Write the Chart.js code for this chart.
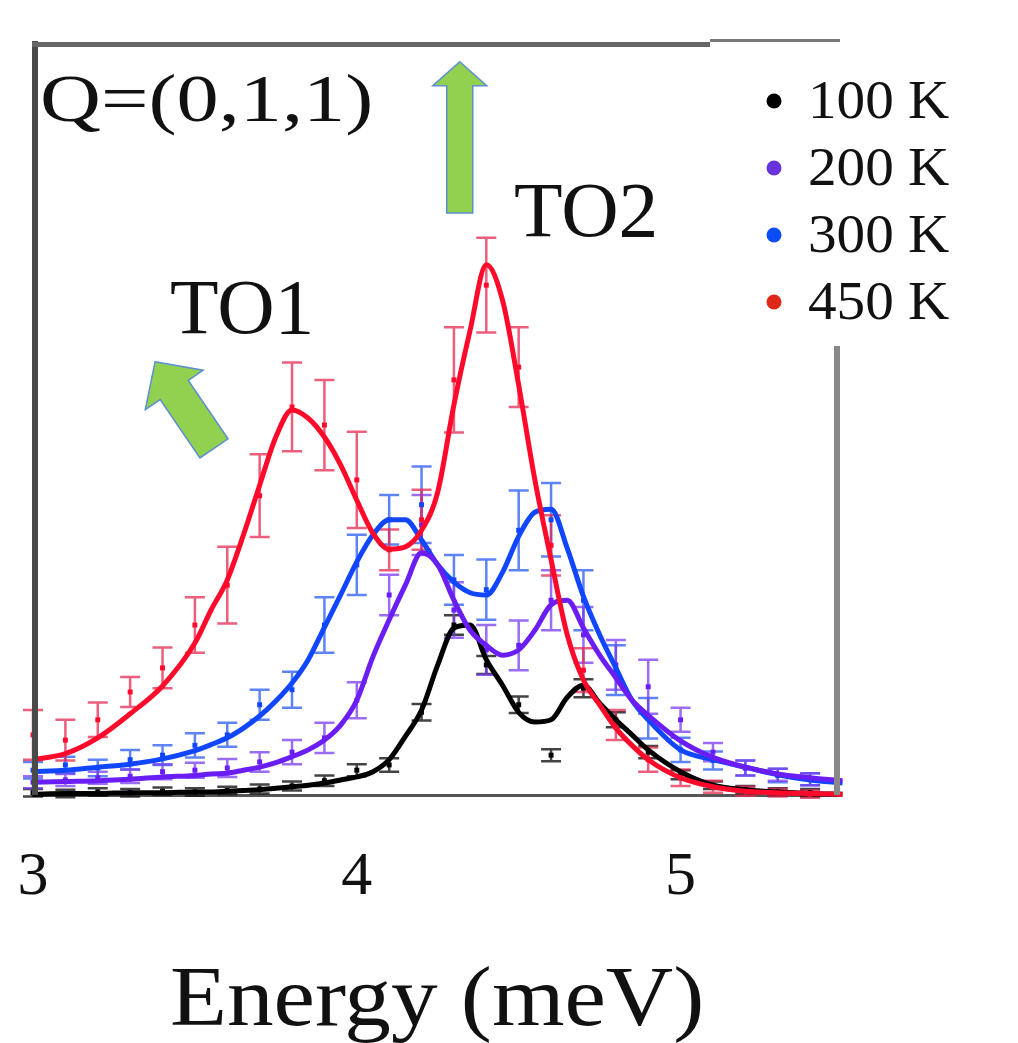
<!DOCTYPE html>
<html>
<head>
<meta charset="utf-8">
<title>Q=(0,1,1) energy scans</title>
<script src="https://cdn.jsdelivr.net/npm/chart.js@4.4.1/dist/chart.umd.min.js"></script>
<style>
  html, body { margin: 0; padding: 0; background: #fff; }
  #wrap { width: 1018px; height: 1043px; }
</style>
</head>
<body>
<div id="wrap"><canvas id="spectra" width="1018" height="1043"></canvas></div>
<script>
// measured points, every 0.1 meV (intensity in arb. units, 0-100)
const energy = [3.0, 3.1, 3.2, 3.3, 3.4, 3.5, 3.6, 3.7, 3.8, 3.9, 4.0, 4.1, 4.2,
  4.3, 4.4, 4.5, 4.6, 4.7, 4.8, 4.9, 5.0, 5.1, 5.2, 5.3, 5.4];

const pts450 = [8.0, 7.3, 10.0, 13.7, 16.9, 22.6, 27.9, 39.8, 51.6, 49.2, 41.9, 32.6, 36.6,
  55.2, 67.8, 56.9, 33.2, 16.6, 9.3, 4.7, 2.3, 1.1, 0.5, 0.3, 0.1];
const err450 = [3.3, 2.7, 2.3, 2.0, 2.7, 3.7, 5.1, 5.5, 5.9, 6.0, 6.4, 2.7, 4.0,
  7.0, 6.3, 5.3, 4.0, 2.9, 2.0, 1.6, 1.1, 0.8, 0.6, 0.5, 0.5];

const pts300 = [3.3, 4.0, 3.6, 4.7, 5.3, 6.6, 8.0, 12.0, 14.0, 22.6, 30.6, 36.6, 38.6,
  28.6, 27.3, 35.2, 36.6, 25.9, 16.6, 10.2, 6.0, 4.6, 3.6, 2.6, 2.1];
const err300 = [1.1, 1.1, 1.1, 1.3, 1.3, 1.6, 1.6, 2.0, 2.4, 3.7, 4.0, 3.3, 5.1,
  3.3, 4.0, 5.3, 4.9, 4.0, 3.3, 2.7, 1.6, 1.2, 1.0, 0.9, 0.8];

const pts200 = [1.7, 2.0, 2.3, 2.5, 3.1, 3.3, 3.6, 4.4, 5.7, 7.6, 12.6, 26.6, 35.9,
  24.6, 19.3, 19.9, 25.9, 21.3, 17.3, 14.4, 10.0, 5.7, 3.6, 2.7, 2.1];
const err200 = [0.8, 0.8, 0.8, 0.9, 1.0, 1.0, 1.2, 1.3, 1.6, 2.0, 2.4, 2.7, 4.0,
  3.7, 3.3, 3.3, 4.0, 3.7, 3.3, 3.6, 1.6, 1.2, 1.0, 0.8, 0.8];

const pts100 = [0.3, 0.2, 0.4, 0.3, 0.5, 0.4, 0.6, 0.8, 1.2, 1.9, 3.3, 4.0, 11.0,
  22.6, 17.3, 12.0, 5.3, 14.2, 10.0, 5.7, 2.7, 1.3, 0.7, 0.4, 0.3];
const err100 = [0.5, 0.5, 0.5, 0.5, 0.5, 0.5, 0.5, 0.6, 0.6, 0.7, 0.8, 0.9, 1.1,
  1.3, 1.2, 1.1, 0.8, 1.2, 1.0, 0.8, 0.6, 0.5, 0.5, 0.5, 0.5];

// fitted curves
const fitEnergy = [3.0, 3.1, 3.2, 3.3, 3.4, 3.5, 3.55, 3.6, 3.65, 3.7, 3.75, 3.8, 3.85, 3.9,
  3.95, 4.0, 4.05, 4.1, 4.15, 4.2, 4.25, 4.3, 4.35, 4.4, 4.45, 4.5, 4.55, 4.6, 4.65, 4.7,
  4.75, 4.8, 4.85, 4.9, 5.0, 5.1, 5.2, 5.3, 5.4, 5.5];

const fit450 = [4.7, 5.5, 7.6, 10.8, 14.5, 20.2, 24.6, 28.6, 34.6, 41.2, 47.6, 51.2, 50.1, 47.6,
  43.9, 39.2, 34.8, 32.7, 33.0, 35.2, 40.3, 51.9, 61.8, 70.5, 65.8, 54.5, 41.9, 31.3, 21.3, 15.3,
  12.0, 8.9, 6.6, 4.7, 2.3, 1.1, 0.5, 0.3, 0.2, 0.1];
const fit300 = [3.1, 3.3, 3.7, 4.1, 4.8, 5.9, 6.7, 7.6, 8.9, 10.5, 12.5, 14.9, 18.0, 22.3,
  26.6, 31.0, 34.6, 36.6, 36.6, 33.9, 30.6, 28.3, 26.9, 26.6, 29.6, 34.4, 37.6, 38.0, 32.8, 26.4,
  21.3, 16.9, 12.6, 10.0, 6.0, 4.7, 3.7, 2.7, 2.0, 1.6];
const fit200 = [1.7, 1.8, 1.9, 2.1, 2.4, 2.6, 2.8, 2.9, 3.3, 3.7, 4.3, 5.1, 6.0, 7.3,
  9.3, 12.6, 18.4, 23.3, 27.9, 32.2, 30.6, 25.9, 21.9, 19.9, 18.6, 19.3, 21.9, 25.3, 25.9, 22.2,
  18.6, 15.6, 12.6, 10.6, 7.2, 5.0, 3.7, 2.8, 2.3, 1.9];
const fit100 = [0.1, 0.2, 0.2, 0.3, 0.3, 0.4, 0.4, 0.5, 0.6, 0.7, 0.9, 1.1, 1.3, 1.6,
  2.0, 2.4, 3.1, 4.7, 7.8, 11.3, 17.3, 22.2, 22.6, 18.0, 14.6, 11.0, 9.7, 10.0, 13.0, 14.6,
  12.2, 10.0, 8.0, 6.0, 3.1, 1.3, 0.7, 0.4, 0.2, 0.1];

const xTickValues = [3, 4, 5];
const seriesLabels = ["100 K", "200 K", "300 K", "450 K"];
const xTitle = "Energy (meV)";

const SERIF = '"Liberation Serif", "Times New Roman", serif';
const colors = {
  k100: { line: "#000000", bar: "rgba(20,20,20,0.8)", dot: "#000000" },
  k200: { line: "#6a1ef5", bar: "rgba(120,60,240,0.75)", dot: "#6633dd" },
  k300: { line: "#1046ff", bar: "rgba(40,90,240,0.75)", dot: "#0a4cf5" },
  k450: { line: "#ff0a2a", bar: "rgba(228,40,80,0.75)", dot: "#e02818" }
};

function toXY(xs, ys) {
  return xs.map((x, i) => ({ x, y: ys[i] }));
}

function fitSet(ys, c) {
  return {
    data: toXY(fitEnergy, ys),
    showLine: true,
    borderColor: c.line,
    borderWidth: 5,
    pointRadius: 0,
    cubicInterpolationMode: "monotone",
    clip: { left: 15, right: 12, top: 0, bottom: 4 }
  };
}

function pointSet(ys, errs, c) {
  return {
    data: toXY(energy, ys),
    errors: errs,
    errorColor: c.bar,
    showLine: false,
    pointStyle: "rect",
    pointRadius: 3.5,
    borderWidth: 0,
    backgroundColor: c.line,
    clip: { left: 15, right: 12, top: 0, bottom: 4 }
  };
}

// vertical error bars with caps, drawn through the chart scales
const errorBars = {
  id: "errorBars",
  beforeDatasetsDraw(chart) {
    const { ctx, chartArea, scales: { x, y } } = chart;
    ctx.save();
    ctx.beginPath();
    ctx.rect(chartArea.left - 15, chartArea.top, chartArea.width + 27, chartArea.height + 4);
    ctx.clip();
    ctx.lineWidth = 2.5;
    const sets = chart.data.datasets.slice().reverse();
    sets.forEach(ds => {
      if (!ds.errors) return;
      ctx.strokeStyle = ds.errorColor;
      ds.data.forEach((p, i) => {
        const px = x.getPixelForValue(p.x);
        const top = y.getPixelForValue(p.y + ds.errors[i]);
        const bot = y.getPixelForValue(p.y - ds.errors[i]);
        ctx.beginPath();
        ctx.moveTo(px, top); ctx.lineTo(px, bot);
        ctx.moveTo(px - 10, top); ctx.lineTo(px + 10, top);
        ctx.moveTo(px - 10, bot); ctx.lineTo(px + 10, bot);
        ctx.stroke();
      });
    });
    ctx.restore();
  }
};

function stretchedText(ctx, text, x, y, size, sx) {
  ctx.save();
  ctx.translate(x, y);
  ctx.scale(sx, 1);
  ctx.font = size + "px " + SERIF;
  ctx.textBaseline = "alphabetic";
  ctx.textAlign = "left";
  ctx.fillText(text, 0, 0);
  ctx.restore();
}

// green arrows, anchored in data units
const arrows = [
  { tip: [4.318, 97.5], tail: [4.318, 77.4], shaft: 13, head: 27, headLen: 24 },
  { tip: [3.377, 57.6], tail: [3.559, 46.1], shaft: 17, head: 35, headLen: 34 }
];

const decorations = {
  id: "decorations",
  beforeDraw(chart) {
    const { ctx, width, height } = chart;
    ctx.save();
    ctx.fillStyle = "#ffffff";
    ctx.fillRect(0, 0, width, height);
    ctx.restore();
  },
  afterDraw(chart) {
    const { ctx, chartArea: a, scales: { x, y } } = chart;
    ctx.save();

    // frame
    ctx.lineCap = "butt";
    ctx.strokeStyle = "#4a4a4a";
    ctx.lineWidth = 6;
    ctx.beginPath(); ctx.moveTo(a.left + 2, 41); ctx.lineTo(a.left + 2, a.bottom); ctx.stroke();
    ctx.strokeStyle = "#666666";
    ctx.lineWidth = 5;
    ctx.beginPath(); ctx.moveTo(a.left - 1, 44.5); ctx.lineTo(710, 44.5); ctx.stroke();
    ctx.strokeStyle = "#7a7a7a";
    ctx.lineWidth = 3;
    ctx.beginPath(); ctx.moveTo(710, 40.5); ctx.lineTo(a.right + 4, 40.5); ctx.stroke();
    ctx.strokeStyle = "#888888";
    ctx.lineWidth = 6;
    ctx.beginPath(); ctx.moveTo(a.right + 1, 346); ctx.lineTo(a.right + 1, a.bottom); ctx.stroke();

    // arrows
    arrows.forEach(ar => {
      const tx = x.getPixelForValue(ar.tip[0]), ty = y.getPixelForValue(ar.tip[1]);
      const bx = x.getPixelForValue(ar.tail[0]), by = y.getPixelForValue(ar.tail[1]);
      const len = Math.hypot(tx - bx, ty - by);
      const ux = (tx - bx) / len, uy = (ty - by) / len;
      const nx = -uy, ny = ux;
      const hx = tx - ux * ar.headLen, hy = ty - uy * ar.headLen;
      ctx.beginPath();
      ctx.moveTo(tx, ty);
      ctx.lineTo(hx + nx * ar.head, hy + ny * ar.head);
      ctx.lineTo(hx + nx * ar.shaft, hy + ny * ar.shaft);
      ctx.lineTo(bx + nx * ar.shaft, by + ny * ar.shaft);
      ctx.lineTo(bx - nx * ar.shaft, by - ny * ar.shaft);
      ctx.lineTo(hx - nx * ar.shaft, hy - ny * ar.shaft);
      ctx.lineTo(hx - nx * ar.head, hy - ny * ar.head);
      ctx.closePath();
      ctx.fillStyle = "#92d050";
      ctx.fill();
      ctx.strokeStyle = "#5b8fd0";
      ctx.lineWidth = 1.5;
      ctx.stroke();
    });

    // labels
    ctx.fillStyle = "#111111";
    stretchedText(ctx, "Q=(0,1,1)", 40, 121, 68, 1.24);
    stretchedText(ctx, "TO1", 170, 333, 78, 1.02);
    stretchedText(ctx, "TO2", 514, 236, 78, 1.02);
    stretchedText(ctx, xTitle, 170, 1025, 84, 1.11);

    // legend
    const legendColors = [colors.k100.dot, colors.k200.dot, colors.k300.dot, colors.k450.dot];
    const rowBase = [118, 185, 252, 319];
    seriesLabels.forEach((lab, i) => {
      ctx.fillStyle = legendColors[i];
      ctx.beginPath();
      ctx.arc(774, rowBase[i] - 17, 7.5, 0, Math.PI * 2);
      ctx.fill();
      ctx.fillStyle = "#111111";
      stretchedText(ctx, lab, 808, rowBase[i], 55, 1.04);
    });
    ctx.restore();
  }
};

new Chart(document.getElementById("spectra"), {
  type: "scatter",
  data: {
    datasets: [
      fitSet(fit450, colors.k450),
      fitSet(fit200, colors.k200),
      fitSet(fit300, colors.k300),
      fitSet(fit100, colors.k100),
      pointSet(pts450, err450, colors.k450),
      pointSet(pts200, err200, colors.k200),
      pointSet(pts300, err300, colors.k300),
      pointSet(pts100, err100, colors.k100)
    ]
  },
  options: {
    responsive: false,
    animation: false,
    devicePixelRatio: 1,
    layout: { padding: { left: 33, right: 182, top: 43, bottom: 0 } },
    plugins: {
      legend: { display: false },
      tooltip: { enabled: false }
    },
    scales: {
      x: {
        type: "linear",
        min: 3,
        max: 5.48,
        grid: { display: false, drawTicks: false },
        border: { display: true, color: "#555555", width: 3 },
        afterBuildTicks: scale => {
          scale.ticks = xTickValues.map(v => ({ value: v }));
        },
        afterFit: scale => {
          scale.height = 248;
          scale.paddingLeft = 0;
          scale.paddingRight = 0;
        },
        ticks: {
          color: "#111111",
          font: { family: SERIF, size: 62 },
          padding: 46,
          maxRotation: 0,
          autoSkip: false
        },
        title: { display: false, text: xTitle }
      },
      y: { display: false, min: 0, max: 100 }
    }
  },
  plugins: [errorBars, decorations]
});
</script>
</body>
</html>
